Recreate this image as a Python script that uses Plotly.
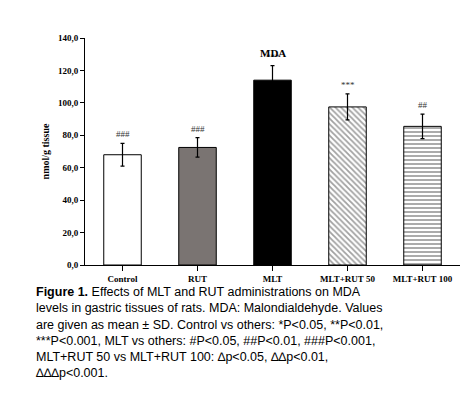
import plotly.graph_objects as go

categories = ["Control", "RUT", "MLT", "MLT+RUT 50", "MLT+RUT 100"]
values = [68.0, 72.5, 114.0, 97.5, 85.5]
errors = [7.0, 6.0, 9.0, 8.0, 7.5]
marks = ["###", "###", "***", "***", "##"]
colors = ["white", "#7a7472", "black", "white", "white"]
patterns = ["", "", "", "\\", "-"]
yticks = [0, 20, 40, 60, 80, 100, 120, 140]

fig = go.Figure(go.Bar(
    x=categories, y=values, width=0.5,
    marker=dict(color=colors, line=dict(color="black", width=1),
                pattern=dict(shape=patterns, fgcolor="black", bgcolor="white", size=4, solidity=0.45)),
    error_y=dict(type="data", array=errors, color="black", thickness=1.2, width=2),
))
for c, v, e, m in zip(categories, values, errors, marks):
    fig.add_annotation(x=c, y=v + e, text=m, showarrow=False, yshift=9,
                       font=dict(family="Liberation Serif", size=9, color="#333"))

fig.add_annotation(xref="paper", yref="paper", x=0.5, y=0.97, text="<b>MDA</b>", showarrow=False,
                   font=dict(family="Liberation Serif", size=11, color="black"), yanchor="top")

caption = ("<b>Figure 1.</b> Effects of MLT and RUT administrations on MDA<br>"
           "levels in gastric tissues of rats. MDA: Malondialdehyde. Values<br>"
           "are given as mean ± SD. Control vs others: *P&lt;0.05, **P&lt;0.01,<br>"
           "***P&lt;0.001, MLT vs others: #P&lt;0.05, ##P&lt;0.01, ###P&lt;0.001,<br>"
           "MLT+RUT 50 vs MLT+RUT 100: ∆p&lt;0.05, ∆∆p&lt;0.01,<br>"
           "∆∆∆p&lt;0.001.")
fig.add_annotation(xref="paper", yref="paper", x=-0.135, y=-0.08, xanchor="left", yanchor="top",
                   text=caption, showarrow=False, align="left",
                   font=dict(family="Liberation Sans", size=12.5, color="black"))

fig.update_layout(
    width=476, height=400, margin=dict(l=77, r=24, t=30, b=143),
    plot_bgcolor="white", paper_bgcolor="white", showlegend=False,
    xaxis=dict(showline=True, linecolor="black", ticks="outside", tickcolor="black",
               tickvals=categories, ticktext=[f"<b>{c}</b>" for c in categories],
               tickfont=dict(family="Liberation Serif", size=9, color="black"), showgrid=False),
    yaxis=dict(range=[0, 140], tickvals=yticks, ticktext=[f"<b>{t},0</b>" for t in yticks],
               showline=True, linecolor="black", ticks="outside", tickcolor="black", ticklen=4,
               showgrid=False, zeroline=False,
               tickfont=dict(family="Liberation Serif", size=9, color="black"),
               title=dict(text="<b>nmol/g tissue</b>", font=dict(family="Liberation Serif", size=10, color="black"), standoff=6)),
)
fig.write_html("out.html")
